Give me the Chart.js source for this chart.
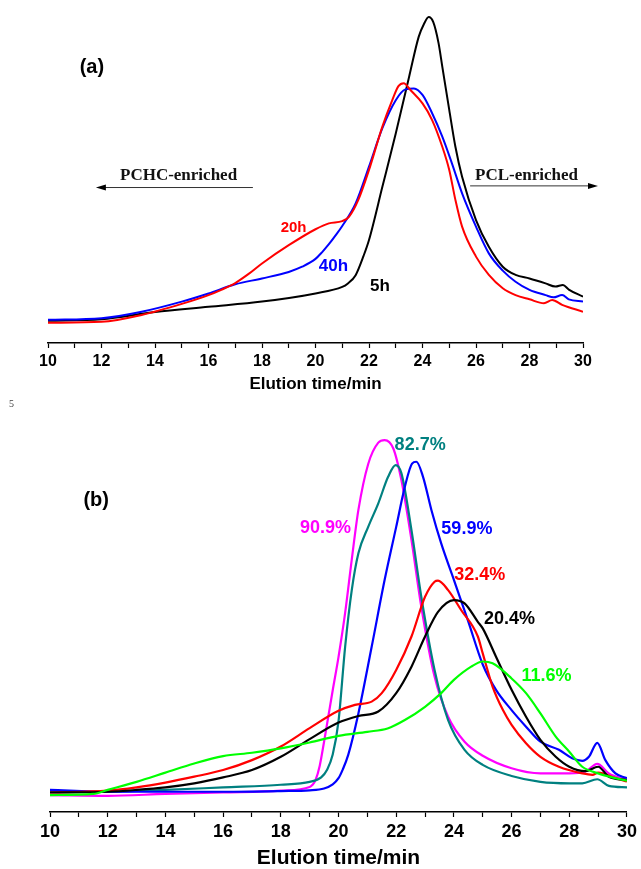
<!DOCTYPE html>
<html>
<head>
<meta charset="utf-8">
<script src="https://cdn.jsdelivr.net/npm/chart.js@4.4.1/dist/chart.umd.min.js"></script>
<style>
  html, body { margin: 0; padding: 0; background: #fff; overflow: hidden; }
  #wrapA { position: absolute; left: 0; top: 0; width: 641px; height: 400px; }
  #wrapB { position: absolute; left: 0; top: 400px; width: 641px; height: 469px; }
  #pageNum { position: absolute; left: 9px; top: 398px; font: 10px "Liberation Serif"; color: #444; }
</style>
</head>
<body>
<div id="wrapA"><canvas id="chartA"></canvas></div>
<div id="pageNum">5</div>
<div id="wrapB"><canvas id="chartB"></canvas></div>
<script>
// ---- panel (a): GPC traces at different reaction times ----
const timeA5 = [10, 12, 14, 16, 18, 20, 21, 21.2, 21.5, 21.8, 22, 22.5, 23, 23.5, 23.86, 24.05, 24.23, 24.4, 24.6, 24.74, 25, 25.23, 25.48, 26, 26.48, 27, 27.48, 28, 28.6, 28.97, 29.25, 29.47, 30];
const sigA5  = [0.068, 0.073, 0.095, 0.111, 0.127, 0.152, 0.172, 0.182, 0.208, 0.268, 0.316, 0.479, 0.643, 0.817, 0.94, 0.978, 1.0, 0.985, 0.92, 0.848, 0.715, 0.602, 0.51, 0.377, 0.295, 0.234, 0.209, 0.198, 0.183, 0.173, 0.178, 0.164, 0.142];

const timeA20 = [10, 12, 13.5, 15, 16, 16.5, 17, 17.5, 18, 19, 20, 20.5, 21, 21.25, 21.6, 22, 22.5, 22.87, 23.1, 23.3, 23.55, 24, 24.36, 24.74, 25, 25.23, 25.48, 26, 26.48, 27, 27.48, 28, 28.54, 28.85, 29.22, 30];
const sigA20  = [0.062, 0.065, 0.086, 0.12, 0.147, 0.164, 0.184, 0.212, 0.244, 0.30, 0.349, 0.367, 0.374, 0.387, 0.439, 0.531, 0.664, 0.745, 0.788, 0.797, 0.776, 0.735, 0.684, 0.602, 0.531, 0.439, 0.357, 0.265, 0.209, 0.168, 0.147, 0.134, 0.122, 0.132, 0.117, 0.096];

const timeA40 = [10, 12, 13.5, 15, 16, 17, 18, 19, 19.5, 20, 20.25, 20.5, 20.75, 21, 21.5, 22, 22.5, 23, 23.36, 23.68, 24, 24.36, 24.74, 25.1, 25.48, 26, 26.48, 27, 27.48, 28, 28.6, 28.9, 29.22, 29.47, 30];
const sigA40  = [0.071, 0.076, 0.096, 0.127, 0.152, 0.18, 0.198, 0.218, 0.234, 0.258, 0.279, 0.303, 0.33, 0.359, 0.428, 0.541, 0.659, 0.745, 0.778, 0.781, 0.761, 0.705, 0.633, 0.551, 0.459, 0.357, 0.275, 0.222, 0.188, 0.163, 0.147, 0.14, 0.147, 0.134, 0.127];

// ---- panel (b): traces labelled by conversion ----
const timeG = [10, 11.5, 12, 13, 14, 15, 16, 17, 18, 19, 20, 21, 21.7, 22.3, 23, 23.56, 24, 24.6, 25, 25.34, 26, 26.5, 27, 27.53, 28, 28.45, 29, 29.6, 30];
const sigG  = [0.035, 0.038, 0.049, 0.071, 0.096, 0.121, 0.141, 0.15, 0.162, 0.178, 0.196, 0.207, 0.216, 0.239, 0.275, 0.312, 0.348, 0.384, 0.398, 0.393, 0.352, 0.312, 0.257, 0.194, 0.153, 0.112, 0.094, 0.081, 0.074];

const timeK = [10, 12, 13, 14, 15, 16, 17, 18, 19, 20, 20.69, 21.38, 22, 22.53, 23, 23.45, 24, 24.37, 24.83, 25, 25.46, 26, 26.5, 27, 27.53, 28, 28.56, 29, 29.37, 30];
const sigK  = [0.042, 0.044, 0.049, 0.056, 0.067, 0.083, 0.103, 0.139, 0.187, 0.232, 0.25, 0.262, 0.312, 0.384, 0.466, 0.533, 0.565, 0.556, 0.506, 0.488, 0.411, 0.321, 0.248, 0.185, 0.139, 0.112, 0.1, 0.112, 0.085, 0.076];

const timeR = [10, 12, 13, 14, 15, 16, 17, 18, 19, 20, 20.57, 21.15, 21.5, 22, 22.53, 23, 23.33, 23.45, 23.8, 24.25, 24.83, 25, 25.34, 25.7, 26, 26.5, 27, 27.64, 28.45, 28.8, 29, 29.6, 30];
const sigR  = [0.042, 0.047, 0.056, 0.069, 0.085, 0.103, 0.13, 0.167, 0.217, 0.264, 0.28, 0.289, 0.312, 0.375, 0.466, 0.574, 0.615, 0.618, 0.592, 0.538, 0.466, 0.42, 0.33, 0.266, 0.226, 0.176, 0.139, 0.112, 0.094, 0.09, 0.096, 0.081, 0.072];

const timeB = [10, 12, 14, 16, 18, 19, 19.5, 19.8, 20, 20.15, 20.34, 20.69, 21.15, 21.6, 22, 22.3, 22.55, 22.7, 22.93, 23.22, 23.56, 24, 24.48, 25, 25.46, 26, 26.5, 27, 27.64, 28.1, 28.45, 28.68, 28.97, 29.25, 29.6, 30];
const sigB  = [0.049, 0.044, 0.044, 0.044, 0.046, 0.048, 0.053, 0.064, 0.081, 0.105, 0.145, 0.257, 0.438, 0.62, 0.764, 0.873, 0.936, 0.941, 0.9, 0.81, 0.719, 0.62, 0.511, 0.39, 0.321, 0.266, 0.221, 0.18, 0.158, 0.135, 0.128, 0.139, 0.177, 0.13, 0.094, 0.081];

const timeT = [10, 12, 14, 16, 18, 19, 19.4, 19.6, 19.8, 20, 20.23, 20.46, 20.69, 21.03, 21.38, 21.72, 21.98, 22.18, 22.53, 22.87, 23.33, 23.8, 24.37, 25, 26, 27, 28, 28.45, 28.97, 29.37, 30];
const sigT  = [0.044, 0.044, 0.049, 0.056, 0.063, 0.071, 0.083, 0.103, 0.145, 0.235, 0.438, 0.592, 0.692, 0.764, 0.828, 0.9, 0.932, 0.91, 0.755, 0.574, 0.375, 0.239, 0.158, 0.117, 0.087, 0.071, 0.067, 0.067, 0.078, 0.06, 0.056];

const timeM = [10, 12, 14, 16, 18, 19, 19.1, 19.2, 19.35, 19.5, 19.65, 19.8, 20, 20.23, 20.46, 20.69, 21.03, 21.38, 21.6, 21.9, 22.18, 22.53, 22.87, 23.33, 23.8, 24.37, 25, 26, 27, 28, 28.56, 28.97, 29.37, 30];
const sigM  = [0.035, 0.033, 0.038, 0.042, 0.047, 0.057, 0.063, 0.075, 0.115, 0.18, 0.25, 0.32, 0.41, 0.53, 0.675, 0.81, 0.935, 0.993, 1.0, 0.977, 0.891, 0.728, 0.547, 0.357, 0.248, 0.18, 0.142, 0.108, 0.094, 0.094, 0.099, 0.12, 0.094, 0.076];

const xTicks = [10, 12, 14, 16, 18, 20, 22, 24, 26, 28, 30];

function pts(xs, ys) {
  return xs.map((t, i) => ({ x: t, y: ys[i] }));
}

function line(label, xs, ys, color, width) {
  return {
    label: label,
    data: pts(xs, ys),
    borderColor: color,
    borderWidth: width,
    pointRadius: 0,
    fill: false,
    cubicInterpolationMode: 'monotone'
  };
}

// draws the in-plot labels and arrows in data coordinates
function marks(texts, arrows) {
  return {
    id: 'marks',
    afterDatasetsDraw(chart) {
      const { ctx, scales: { x, y } } = chart;
      ctx.save();
      texts.forEach(t => {
        ctx.font = t.font;
        ctx.fillStyle = t.color;
        ctx.textAlign = 'center';
        ctx.textBaseline = 'middle';
        ctx.fillText(t.text, x.getPixelForValue(t.x), y.getPixelForValue(t.y));
      });
      arrows.forEach(a => {
        const x0 = x.getPixelForValue(a.from), x1 = x.getPixelForValue(a.to);
        const py = y.getPixelForValue(a.y);
        const dir = Math.sign(x1 - x0);
        ctx.strokeStyle = '#333';
        ctx.lineWidth = 1;
        ctx.beginPath();
        ctx.moveTo(x0, py);
        ctx.lineTo(x1 - dir * 6, py);
        ctx.stroke();
        ctx.fillStyle = '#000';
        ctx.beginPath();
        ctx.moveTo(x1, py);
        ctx.lineTo(x1 - dir * 10, py - 3);
        ctx.lineTo(x1 - dir * 10, py + 3);
        ctx.closePath();
        ctx.fill();
      });
      ctx.restore();
    }
  };
}

function xAxis(tickSize, titleSize, boxHeight, titlePadBottom) {
  return {
    type: 'linear',
    min: 10,
    max: 30,
    border: { display: true, color: '#000', width: 1.5 },
    grid: { drawOnChartArea: false, drawTicks: true, tickLength: 5, tickColor: '#000', tickWidth: 1.2 },
    ticks: {
      stepSize: 1,
      autoSkip: false,
      maxRotation: 0,
      padding: 4,
      color: '#000',
      font: { family: 'Liberation Sans', weight: 'bold', size: tickSize },
      callback: v => xTicks.includes(v) ? String(v) : ''
    },
    title: {
      display: true,
      text: 'Elution time/min',
      color: '#000',
      font: { family: 'Liberation Sans', weight: 'bold', size: titleSize, lineHeight: 1 },
      padding: { top: 0, bottom: titlePadBottom }
    },
    afterFit: s => { s.height = boxHeight; }
  };
}

Chart.defaults.animation = false;

new Chart(document.getElementById('chartA').getContext('2d'), {
  type: 'line',
  data: {
    datasets: [
      line('20h', timeA20, sigA20, '#ff0000', 2),
      line('40h', timeA40, sigA40, '#0000ff', 2),
      line('5h', timeA5, sigA5, '#000000', 2)
    ]
  },
  options: {
    responsive: true,
    maintainAspectRatio: false,
    layout: { padding: { left: 48, right: 58, top: 4, bottom: 0 } },
    plugins: { legend: { display: false }, tooltip: { enabled: false } },
    scales: {
      x: xAxis(16, 17, 57, 7),
      y: { display: false, min: 0, max: 1.04 }
    }
  },
  plugins: [marks([
    { text: '(a)', x: 11.64, y: 0.844, color: '#000', font: 'bold 20px "Liberation Sans"' },
    { text: '20h', x: 19.18, y: 0.353, color: '#ff0000', font: 'bold 15px "Liberation Sans"' },
    { text: '40h', x: 20.67, y: 0.236, color: '#0000ff', font: 'bold 17px "Liberation Sans"' },
    { text: '5h', x: 22.41, y: 0.175, color: '#000', font: 'bold 17px "Liberation Sans"' },
    { text: 'PCHC-enriched', x: 14.88, y: 0.515, color: '#111', font: 'bold 17px "Liberation Serif"' },
    { text: 'PCL-enriched', x: 27.89, y: 0.515, color: '#111', font: 'bold 17px "Liberation Serif"' }
  ], [
    { from: 17.66, to: 11.79, y: 0.477 },
    { from: 25.78, to: 30.56, y: 0.482 }
  ])]
});

new Chart(document.getElementById('chartB').getContext('2d'), {
  type: 'line',
  data: {
    datasets: [
      line('11.6%', timeG, sigG, '#00ff00', 2.2),
      line('20.4%', timeK, sigK, '#000000', 2.2),
      line('32.4%', timeR, sigR, '#ff0000', 2.2),
      line('59.9%', timeB, sigB, '#0000ff', 2.2),
      line('82.7%', timeT, sigT, '#008080', 2.2),
      line('90.9%', timeM, sigM, '#ff00ff', 2.2)
    ]
  },
  options: {
    responsive: true,
    maintainAspectRatio: false,
    layout: { padding: { left: 50, right: 11, top: 22, bottom: 0 } },
    plugins: { legend: { display: false }, tooltip: { enabled: false } },
    scales: {
      x: xAxis(18, 21, 57, 0),
      y: { display: false, min: -0.011, max: 1.049 }
    }
  },
  plugins: [marks([
    { text: '(b)', x: 11.6, y: 0.835, color: '#000', font: 'bold 20px "Liberation Sans"' },
    { text: '90.9%', x: 19.55, y: 0.761, color: '#ff00ff', font: 'bold 18px "Liberation Sans"' },
    { text: '82.7%', x: 22.83, y: 0.986, color: '#008080', font: 'bold 18px "Liberation Sans"' },
    { text: '59.9%', x: 24.45, y: 0.758, color: '#0000ff', font: 'bold 18px "Liberation Sans"' },
    { text: '32.4%', x: 24.9, y: 0.633, color: '#ff0000', font: 'bold 18px "Liberation Sans"' },
    { text: '20.4%', x: 25.93, y: 0.514, color: '#000', font: 'bold 18px "Liberation Sans"' },
    { text: '11.6%', x: 27.21, y: 0.359, color: '#00ff00', font: 'bold 18px "Liberation Sans"' }
  ], [])]
});
</script>
</body>
</html>
